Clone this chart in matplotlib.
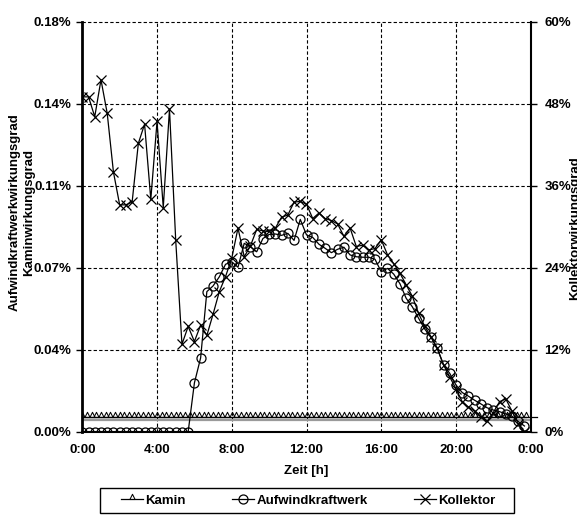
import matplotlib
matplotlib.use("Agg")
import matplotlib.pyplot as plt
from matplotlib.ticker import FixedLocator, FuncFormatter
from matplotlib.lines import Line2D
from matplotlib.patches import Rectangle
from matplotlib.path import Path

plt.rcParams['font.family'] = ['Liberation Sans', 'DejaVu Sans']
plt.rcParams['font.weight'] = 'bold'
plt.rcParams['font.size'] = 9.5

# Messintervalle in Minuten
schritt_kollektor = 20
schritt_kamin = 15

# Kollektorwirkungsgrad [%] (rechte Achse), alle 20 min ab 0:00
kollektor = [
    49.0, 49.0, 46.1, 51.5, 46.6, 38.0, 33.2, 33.2, 33.6, 42.2, 45.0, 34.0,
    45.4, 32.8, 47.2, 28.0, 12.8, 15.4, 13.2, 15.6, 14.1, 17.2, 20.5, 22.7,
    25.4, 29.8, 25.6, 27.2, 29.6, 29.4, 29.3, 29.8, 31.4, 31.7, 33.6, 33.7,
    33.3, 31.2, 32.0, 31.2, 30.9, 30.4, 28.6, 29.8, 27.1, 27.3, 26.6, 26.8,
    28.1, 25.9, 24.6, 23.2, 21.5, 19.8, 17.3, 15.4, 13.9, 12.2, 9.8, 8.0,
    6.3, 4.4, 3.6, 3.0, 2.2, 1.5, 2.8, 4.4, 4.8, 3.0, 1.2, 0.0,
]

# Aufwindkraftwerkwirkungsgrad [%] (linke Achse), alle 20 min ab 0:00
aufwind = [
    0.0, 0.0, 0.0, 0.0, 0.0, 0.0, 0.0, 0.0, 0.0, 0.0, 0.0, 0.0,
    0.0, 0.0, 0.0, 0.0, 0.0, 0.0, 0.0214, 0.0324, 0.0615, 0.0640, 0.0680, 0.0735,
    0.0746, 0.0722, 0.0827, 0.0812, 0.0790, 0.0848, 0.0866, 0.0868, 0.0862, 0.0871, 0.0840, 0.0932,
    0.0864, 0.0853, 0.0823, 0.0805, 0.0786, 0.0801, 0.0810, 0.0776, 0.0768, 0.0766, 0.0766, 0.0757,
    0.0702, 0.0717, 0.0692, 0.0650, 0.0586, 0.0548, 0.0498, 0.0450, 0.0414, 0.0366, 0.0293, 0.0256,
    0.0205, 0.0172, 0.0156, 0.0138, 0.0122, 0.0105, 0.0095, 0.0088, 0.0078, 0.0068, 0.0045, 0.0025,
]

# Kaminwirkungsgrad [%] (linke Achse), alle 15 min ab 0:00
kamin = [
    0.0065, 0.0065, 0.0065, 0.0065, 0.0065, 0.0065, 0.0065, 0.0065,
    0.0065, 0.0065, 0.0065, 0.0065, 0.0065, 0.0065, 0.0065, 0.0065,
    0.0065, 0.0065, 0.0065, 0.0065, 0.0065, 0.0065, 0.0065, 0.0065,
    0.0065, 0.0065, 0.0065, 0.0065, 0.0065, 0.0065, 0.0065, 0.0065,
    0.0065, 0.0065, 0.0065, 0.0065, 0.0065, 0.0065, 0.0065, 0.0065,
    0.0065, 0.0065, 0.0065, 0.0065, 0.0065, 0.0065, 0.0065, 0.0065,
    0.0065, 0.0065, 0.0065, 0.0065, 0.0065, 0.0065, 0.0065, 0.0065,
    0.0065, 0.0065, 0.0065, 0.0065, 0.0065, 0.0065, 0.0065, 0.0065,
    0.0065, 0.0065, 0.0065, 0.0065, 0.0065, 0.0065, 0.0065, 0.0065,
    0.0065, 0.0065, 0.0065, 0.0065, 0.0065, 0.0065, 0.0065, 0.0065,
    0.0065, 0.0065, 0.0065, 0.0065, 0.0065, 0.0065, 0.0065, 0.0065,
    0.0065, 0.0065, 0.0065, 0.0065, 0.0065, 0.0065, 0.0065, 0.0065,
]

links_ticks = [0.0, 0.036, 0.072, 0.108, 0.144, 0.18]
rechts_ticks = [0, 12, 24, 36, 48, 60]
zeit_ticks = [0, 4, 8, 12, 16, 20, 24]
zeit_labels = ['0:00', '4:00', '8:00', '12:00', '16:00', '20:00', '0:00']

t_20 = [i * schritt_kollektor / 60 for i in range(len(kollektor))]
t_15 = [i * schritt_kamin / 60 for i in range(len(kamin))]

# Dreieck, das mit seiner Grundseite auf der Linie sitzt
dreieck = Path([(-1.0, 0.0), (0.0, 2.0), (1.0, 0.0), (-1.0, 0.0)],
               [Path.MOVETO, Path.LINETO, Path.LINETO, Path.CLOSEPOLY])

W, H = 577, 515
fig = plt.figure(figsize=(W / 100, H / 100), dpi=100)
x0, x1, y0, y1 = 82.3, 530.7, 21.7, 431.7
ax = fig.add_axes([x0 / W, 1 - y1 / H, (x1 - x0) / W, (y1 - y0) / H])
ax2 = ax.twinx()

ax.set_xlim(0, 24)
ax.set_ylim(0, 0.18)
ax2.set_ylim(0, 60)

# Gitter
for v in zeit_ticks[1:-1]:
    ax.axvline(v, color='black', lw=0.8, ls=(0, (3, 2)), zorder=1)
for v in links_ticks[1:]:
    ax.axhline(v, color='black', lw=0.8, ls=(0, (3, 2)), zorder=1, clip_on=False)

lw = 0.9
# graue Begleitlinie unter der Kaminkurve
ax.axhline(kamin[0] - 0.0012, color='#9a9a9a', lw=1.6, zorder=2)
ax.axhline(kamin[0], xmin=0, xmax=1.014, color='black', lw=lw, zorder=3,
           clip_on=False)
ax.plot(t_15, kamin, color='black', lw=lw, marker=dreieck, ms=7.5, mfc='none',
        mew=0.75, zorder=3)
ax.plot(t_20, aufwind, color='black', lw=lw, marker='o', ms=6.5, mfc='none',
        mew=0.9, zorder=3)
ax2.plot(t_20, kollektor, color='black', lw=lw, marker='x', ms=7, mew=0.9,
         zorder=3)

ax.xaxis.set_major_locator(FixedLocator(zeit_ticks))
ax.set_xticklabels(zeit_labels)
ax.yaxis.set_major_locator(FixedLocator(links_ticks))
ax.yaxis.set_major_formatter(FuncFormatter(lambda v, p: f'{v:.2f}%'))
ax2.yaxis.set_major_locator(FixedLocator(rechts_ticks))
ax2.yaxis.set_major_formatter(FuncFormatter(lambda v, p: f'{v:.0f}%'))

ax.tick_params(axis='x', length=0, pad=9, labelsize=9.5)
ax.tick_params(axis='y', direction='out', length=4, width=1, pad=4, labelsize=9.5)
ax2.tick_params(axis='y', direction='out', length=4, width=1, pad=6, labelsize=9.5)

for a in (ax, ax2):
    a.spines['top'].set_visible(False)
ax.spines['left'].set_linewidth(2)
ax.spines['bottom'].set_linewidth(1.5)
ax2.spines['right'].set_linewidth(1.5)
ax2.spines['left'].set_visible(False)
ax2.spines['bottom'].set_visible(False)
ax.spines['right'].set_visible(False)

# Achsentitel
fig.text(15 / W, 1 - 212 / H, 'Aufwindkraftwerkwirkungsgrad', rotation=90,
         ha='center', va='center', fontsize=9.5, fontweight='bold')
fig.text(29 / W, 1 - 212 / H, 'Kaminwirkungsgrad', rotation=90,
         ha='center', va='center', fontsize=9.5, fontweight='bold')
fig.text(569.5 / W, 1 - 228 / H, 'Kollektorwirkungsgrad', rotation=90,
         ha='left', va='center', fontsize=9.5, fontweight='bold')
fig.text(306 / W, 1 - 471 / H, 'Zeit [h]', ha='center', va='center',
         fontsize=9.5, fontweight='bold')

# Legende mit eigenem Rahmen
fig.patches.append(Rectangle((100 / W, 1 - 513 / H), 414 / W, 25 / H,
                             fill=False, lw=1.0, edgecolor='black',
                             transform=fig.transFigure, figure=fig))
handles = [
    Line2D([], [], color='black', lw=lw, marker=dreieck, ms=7.5, mfc='none', mew=0.75),
    Line2D([], [], color='black', lw=lw, marker='o', ms=6.5, mfc='none', mew=0.9),
    Line2D([], [], color='black', lw=lw, marker='x', ms=7, mew=0.9),
]
fig.legend(handles, ['Kamin', 'Aufwindkraftwerk', 'Kollektor'],
           loc='center', ncol=3, bbox_to_anchor=(308 / W, 1 - 500.5 / H),
           frameon=False, handlelength=1.7, handletextpad=0.15,
           columnspacing=3.5, fontsize=9.5, borderpad=0.0)

fig.savefig('out.png', dpi=100)
